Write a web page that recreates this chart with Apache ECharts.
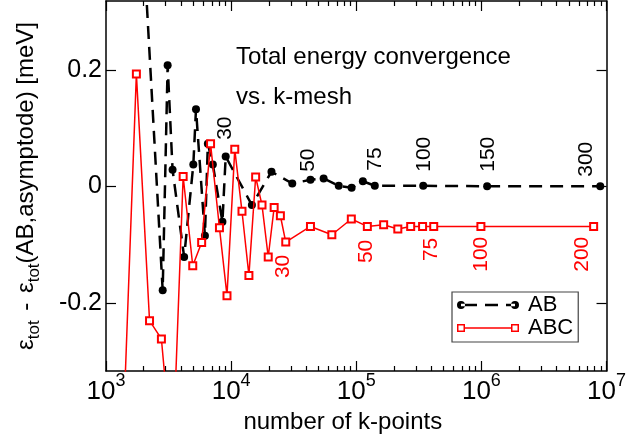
<!DOCTYPE html>
<html><head><meta charset="utf-8">
<script src="https://cdn.jsdelivr.net/npm/echarts@6/dist/echarts.min.js"></script>
<style>html,body{margin:0;padding:0;background:#fff}#c{width:629px;height:440px}</style>
</head><body><div id="c"></div><script>
// ---------------- data ----------------
const seriesNames = ['AB', 'ABC'];
const abKpoints = [1749, 2838, 3109, 3404, 4212, 4988, 5238, 6173, 6516, 7139, 8520, 9047, 14650, 21010, 30800, 43050, 54830, 72440, 91800, 112900, 140600, 342800, 1111000, 8913000];
const abEnergy  = [0.635, -0.1786, 0.2078, 0.0283, -0.1214, 0.0374, 0.1324, -0.0849, 0.0729, 0.0374, -0.0609, 0.0511, -0.0322, 0.0249, 0.0048, 0.0111, 0.0134, 0.0009, -0.0026, 0.0086, 0.0009, 0.0009, 0, 0];
const abMeshIdx = [11, 15, 20, 21, 22, 23];
const abMeshLabels = ['30', '50', '75', '100', '150', '300'];
const abcKpoints = [1300, 1749, 2228, 2772, 3404, 4136, 4935, 5814, 6848, 8066, 9265, 10690, 12210, 13870, 15700, 17650, 19790, 22070, 24750, 27320, 43050, 63790, 91300, 122600, 165500, 214800, 272200, 338800, 415900, 990800, 7888000];
const abcEnergy  = [-0.56, 0.1929, -0.2306, -0.262, -0.474, 0.0168, -0.1363, -0.0963, 0.0729, -0.0711, -0.1877, 0.0634, -0.0429, -0.1529, 0.0159, -0.0322, -0.1214, -0.0363, -0.0506, -0.0957, -0.0689, -0.0831, -0.0562, -0.0689, -0.066, -0.0734, -0.0689, -0.0689, -0.0689, -0.0689, -0.0689];
const abcMeshIdx = [19, 23, 28, 29, 30];
const abcMeshLabels = ['30', '50', '75', '100', '200'];
const xMajorTicks = [1e3, 1e4, 1e5, 1e6, 1e7];
const yTicks = [-0.2, 0, 0.2];
const titleLines = ['Total energy convergence', 'vs. k-mesh'];
const xName = 'number of k-points';

// ---------------- styling ----------------
const FONT = "'Liberation Sans', Arial, Helvetica, sans-serif";
const abLabelShift  = [[16.7, 0], [8, -2.7], [15, 0.5], [14, 0.5], [14.5, 1], [9.5, -13.7]];
const abcLabelShift = [[12.7, -2.7], [13.3, -1.5], [11.3, -2.3], [10.3, 0], [10.3, -11]];
const xMinorTicks = [];
for (let d = 3; d < 7; d++) for (let m = 2; m <= 9; m++) xMinorTicks.push(m * Math.pow(10, d));

const abData = abKpoints.map((x, i) => {
  const item = { value: [x, abEnergy[i]] };
  const k = abMeshIdx.indexOf(i);
  if (k >= 0) item.label = {
    show: true, formatter: abMeshLabels[k], position: 'inside', rotate: 90,
    align: 'left', verticalAlign: 'middle', offset: abLabelShift[k],
    fontSize: 21, fontFamily: FONT, color: '#000'
  };
  return item;
});
const abcData = abcKpoints.map((x, i) => {
  const item = { value: [x, abcEnergy[i]] };
  const k = abcMeshIdx.indexOf(i);
  if (k >= 0) item.label = {
    show: true, formatter: abcMeshLabels[k], position: 'inside', rotate: 90,
    align: 'right', verticalAlign: 'middle', offset: [-abcLabelShift[k][0], abcLabelShift[k][1]],
    fontSize: 21, fontFamily: FONT, color: '#ff0000'
  };
  return item;
});

const AXC = '#000';
function logAxis(pos, major, withLabels) {
  const a = {
    type: 'log', logBase: 10, min: 1e3, max: 1e7, position: pos,
    axisLine: { show: major, onZero: false, lineStyle: { color: AXC, width: 1.5 } },
    axisTick: { show: true, inside: true, length: major ? 10 : 5,
      customValues: major ? xMajorTicks : xMinorTicks, lineStyle: { color: AXC, width: 1.2 } },
    axisLabel: { show: false },
    splitLine: { show: false }, minorTick: { show: false }, minorSplitLine: { show: false }
  };
  if (withLabels) {
    a.axisLabel = {
      show: true, customValues: xMajorTicks, margin: 1,
      formatter: v => '{b|10}{s|' + Math.round(Math.log10(v)) + '}',
      rich: {
        b: { fontSize: 26, fontFamily: FONT, color: '#000', lineHeight: 40, verticalAlign: 'middle' },
        s: { fontSize: 18, fontFamily: FONT, color: '#000', lineHeight: 18, verticalAlign: 'top' }
      }
    };
    a.name = xName;
    a.nameLocation = 'middle';
    a.nameGap = 38;
    a.nameTextStyle = { fontSize: 24, fontFamily: FONT, color: '#000', padding: [0, 27, 0, 0] };
  }
  return a;
}
function valAxis(pos, withLabels) {
  const a = {
    type: 'value', min: -0.317, max: 0.318, position: pos,
    axisLine: { show: true, onZero: false, lineStyle: { color: AXC, width: 1.5 } },
    axisTick: { show: true, inside: true, length: 10, customValues: yTicks, lineStyle: { color: AXC, width: 1.2 } },
    axisLabel: { show: false },
    splitLine: { show: false }
  };
  if (withLabels) {
    a.axisLabel = {
      show: true, customValues: yTicks, margin: 4, fontSize: 25, fontFamily: FONT, color: '#000',
      formatter: v => (Math.abs(v) < 1e-9 ? '0' : v.toFixed(1))
    };
    a.name = '{e|ε}{s|tot}{m| - }{e|ε}{s|tot}{e|(AB,asymptode) [meV]}';
    a.nameLocation = 'middle';
    a.nameGap = 63;
    a.nameTextStyle = {
      rich: {
        e: { fontSize: 24, fontFamily: FONT, color: '#000', lineHeight: 34, verticalAlign: 'middle' },
        m: { fontSize: 24, fontFamily: FONT, color: '#000', lineHeight: 34, verticalAlign: 'middle', padding: [0, 3, 0, 3] },
        s: { fontSize: 17, fontFamily: FONT, color: '#000', lineHeight: 17, verticalAlign: 'bottom' }
      }
    };
  }
  return a;
}

const abIcon = 'path://M0 4A4 4 0 1 0 8 4A4 4 0 1 0 0 4Z M4 2.75L20 2.75L20 5.25L4 5.25Z M28 2.75L41 2.75L41 5.25L28 5.25Z M49 2.75L58 2.75L58 5.25L49 5.25Z M54 4A4 4 0 1 0 62 4A4 4 0 1 0 54 4Z';
const abcIcon = 'path://M0 0L8 0L8 1.5L0 1.5Z M0 6.5L8 6.5L8 8L0 8Z M0 0L1.5 0L1.5 8L0 8Z M6.5 0L8 0L8 8L6.5 8Z M8 3.25L54 3.25L54 4.75L8 4.75Z M54 0L62 0L62 1.5L54 1.5Z M54 6.5L62 6.5L62 8L54 8Z M54 0L55.5 0L55.5 8L54 8Z M60.5 0L62 0L62 8L60.5 8Z';

const chart = echarts.init(document.getElementById('c'), null, { renderer: 'canvas' });
chart.setOption({
  animation: false,
  backgroundColor: '#fff',
  title: {
    text: titleLines.join('\n'), left: 236, top: 37, padding: 0,
    textStyle: { fontSize: 24, fontWeight: 'normal', lineHeight: 40, fontFamily: FONT, color: '#000' }
  },
  grid: { left: 106, right: 17, top: 1, bottom: 69, containLabel: false },
  xAxis: [logAxis('bottom', true, true), logAxis('bottom', false, false), logAxis('top', true, false), logAxis('top', false, false)],
  yAxis: [valAxis('left', true), valAxis('right', false)],
  legend: {
    orient: 'vertical', left: 452, top: 292, padding: [2, 5, 3, 5], itemGap: 1,
    itemWidth: 62, itemHeight: 8, backgroundColor: '#fff', borderColor: '#444', borderWidth: 1.2,
    selectedMode: false,
    textStyle: { fontSize: 22, fontFamily: FONT, color: '#000', lineHeight: 22, padding: [0, 0, 0, 4] },
    data: [
      { name: seriesNames[0], icon: abIcon, itemStyle: { color: '#000', borderWidth: 0 } },
      { name: seriesNames[1], icon: abcIcon, itemStyle: { color: '#ff0000', borderWidth: 0 } }
    ]
  },
  series: [
    {
      name: seriesNames[0], type: 'line', xAxisIndex: 0, yAxisIndex: 0, data: abData,
      symbol: 'circle', symbolSize: 8, showAllSymbol: true, clip: true,
      itemStyle: { color: '#000' },
      lineStyle: { color: '#000', width: 2.5, type: [13, 8] },
      emphasis: { disabled: true }, z: 2
    },
    {
      name: seriesNames[1], type: 'line', xAxisIndex: 0, yAxisIndex: 0, data: abcData,
      symbol: 'emptyRect', symbolSize: 7, showAllSymbol: true, clip: true,
      itemStyle: { color: '#ff0000', borderWidth: 1.5 },
      lineStyle: { color: '#ff0000', width: 1.5 },
      emphasis: { disabled: true }, z: 3
    }
  ]
});
</script></body></html>
